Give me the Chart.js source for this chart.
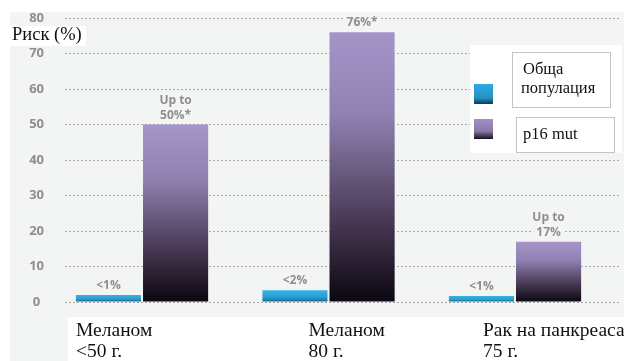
<!DOCTYPE html>
<html>
<head>
<meta charset="utf-8">
<script src="https://cdn.jsdelivr.net/npm/chart.js@4"></script>
<style>
  body { margin: 0; background: #fff; }
  #wrap { width: 624px; height: 361px; position: relative; }
</style>
</head>
<body>
<div id="wrap"><canvas id="riskChart"></canvas></div>
<script>
// Data
const categories = [["Меланом", "<50 г."], ["Меланом", "80 г."], ["Рак на панкреаса", "75 г."]];
const seriesNames = ["Обща популация", "p16 mut"];
const generalRisk = [2, 3.3, 1.7];
const p16Risk = [50, 76, 17];
const generalLabels = [["<1%"], ["<2%"], ["<1%"]];
const p16Labels = [["Up to", "50%*"], ["76%*"], ["Up to", "17%"]];
const yTicks = [0, 10, 20, 30, 40, 50, 60, 70, 80];

const PLOT_BG = "#f3f4f4";
const LABEL_GRAY = "#8e8e8e";
const SERIF = "'Liberation Serif', 'DejaVu Serif', serif";
const SANS = "'Open Sans', Lato, sans-serif";

// per-bar vertical gradients
function purpleFill(top, bottom, ctx) {
  const g = ctx.createLinearGradient(0, top, 0, bottom);
  g.addColorStop(0, "#a494c8");
  g.addColorStop(0.3, "#9282b3");
  g.addColorStop(0.75, "#3e3048");
  g.addColorStop(1, "#0a0610");
  return g;
}
function blueFill(top, bottom, ctx) {
  const g = ctx.createLinearGradient(0, top, 0, bottom);
  g.addColorStop(0, "#38b2e4");
  g.addColorStop(0.55, "#2aa0d6");
  g.addColorStop(1, "#1a668c");
  return g;
}
function barFill(maker) {
  return (c) => {
    const chart = c.chart;
    const y = chart.scales.y;
    if (!chart.chartArea || !y || !c.raw) return "#999";
    return maker(y.getPixelForValue(c.raw.y), y.getPixelForValue(0), chart.ctx);
  };
}

// Background, axis title, category labels
const framePlugin = {
  id: "frame",
  beforeDraw(chart) {
    const { ctx } = chart;
    ctx.save();
    ctx.fillStyle = "#fff";
    ctx.fillRect(0, 0, chart.width, chart.height);
    ctx.fillStyle = PLOT_BG;
    ctx.fillRect(10, 12, chart.width - 10, chart.height - 12);
    ctx.restore();
  },
  afterDraw(chart) {
    const { ctx } = chart;
    const x = chart.scales.x;
    ctx.save();
    // y axis title
    ctx.fillStyle = "#fff";
    ctx.fillRect(10, 26, 76, 20);
    ctx.fillStyle = "#111";
    ctx.font = "18.5px " + SERIF;
    ctx.textBaseline = "alphabetic";
    ctx.fillText("Риск (%)", 12, 40);

    // category labels
    ctx.fillStyle = "#fff";
    ctx.fillRect(68, 317, chart.width - 68, chart.height - 317);
    const offsets = [-66, -20, -32];
    ctx.fillStyle = "#111";
    ctx.font = "19.5px " + SERIF;
    categories.forEach((lines, i) => {
      const px = x.getPixelForValue(i) + offsets[i];
      lines.forEach((t, j) => ctx.fillText(t, px, 336 + j * 21));
    });
    ctx.restore();
  }
};

// Value labels over bars
const valueLabelPlugin = {
  id: "valueLabels",
  afterDatasetsDraw(chart) {
    const { ctx } = chart;
    const sets = [generalLabels, p16Labels];
    ctx.save();
    ctx.font = "bold 12px " + SANS;
    ctx.textAlign = "center";
    ctx.textBaseline = "alphabetic";
    sets.forEach((labels, d) => {
      chart.getDatasetMeta(d).data.forEach((el, i) => {
        const lines = labels[i];
        const base = el.y - 6;
        lines.forEach((t, j) => {
          const y = base - (lines.length - 1 - j) * 15;
          const w = ctx.measureText(t).width;
          ctx.fillStyle = PLOT_BG;
          ctx.fillRect(el.x - w / 2 - 3, y - 10, w + 6, 13);
          ctx.fillStyle = LABEL_GRAY;
          ctx.fillText(t, el.x, y);
        });
      });
    });
    ctx.restore();
  }
};

// Legend: swatches on the left, names in framed boxes
const legendPlugin = {
  id: "boxLegend",
  afterDraw(chart) {
    const { ctx } = chart;
    ctx.save();
    ctx.fillStyle = "#fff";
    ctx.fillRect(470, 45, 152, 108);

    const swatches = [
      { y: 84, fill: (t, b) => { const g = ctx.createLinearGradient(0, t, 0, b); g.addColorStop(0, "#2eaae2"); g.addColorStop(0.7, "#2690c4"); g.addColorStop(1, "#0b3a52"); return g; } },
      { y: 119, fill: (t, b) => { const g = ctx.createLinearGradient(0, t, 0, b); g.addColorStop(0, "#a090c6"); g.addColorStop(0.6, "#8a7aa8"); g.addColorStop(1, "#1a1020"); return g; } }
    ];
    swatches.forEach((s) => {
      ctx.fillStyle = s.fill(s.y, s.y + 20);
      ctx.fillRect(474, s.y, 19, 20);
    });

    ctx.strokeStyle = "#c4c4c4";
    ctx.lineWidth = 1;
    ctx.strokeRect(512.5, 52.5, 98, 55);
    ctx.strokeRect(516.5, 117.5, 98, 35);

    ctx.fillStyle = "#111";
    ctx.font = "16.5px " + SERIF;
    const first = seriesNames[0].split(" ");
    ctx.fillText(first[0], 523, 74);
    ctx.fillText(first[1], 521, 93);
    ctx.fillText(seriesNames[1], 523, 139);
    ctx.restore();
  }
};

const ctx = document.getElementById("riskChart").getContext("2d");
new Chart(ctx, {
  type: "bar",
  data: {
    datasets: [
      {
        label: seriesNames[0],
        data: generalRisk.map((v, i) => ({ x: i, y: v })),
        backgroundColor: barFill(blueFill),
        borderWidth: 0
      },
      {
        label: seriesNames[1],
        data: p16Risk.map((v, i) => ({ x: i, y: v })),
        backgroundColor: barFill(purpleFill),
        borderWidth: 0
      }
    ]
  },
  options: {
    responsive: true,
    maintainAspectRatio: false,
    animation: false,
    categoryPercentage: 0.72,
    barPercentage: 0.97,
    layout: { padding: { top: 18, bottom: 59, left: 10, right: 4 } },
    plugins: {
      legend: { display: false },
      tooltip: { enabled: false }
    },
    scales: {
      x: {
        type: "linear",
        min: -0.413,
        max: 2.563,
        offset: false,
        display: false,
        afterBuildTicks: (s) => { s.ticks = categories.map((c, i) => ({ value: i })); },
        grid: { display: false }
      },
      y: {
        min: 0,
        max: 80,
        afterBuildTicks: (s) => { s.ticks = yTicks.map((v) => ({ value: v })); },
        afterFit: (s) => {
          s.width = 55;
          // tick padding only shifts labels sideways here
          s.paddingTop = 7;
          s.paddingBottom = 7;
        },
        // dotted gridlines
        border: { display: false, dash: [2, 2] },
        grid: {
          color: "#a8a8a8",
          lineWidth: 1,
          drawTicks: false
        },
        ticks: {
          crossAlign: "center",
          padding: 21,
          color: LABEL_GRAY,
          font: { family: SANS, size: 13, weight: "bold" }
        }
      }
    }
  },
  plugins: [framePlugin, valueLabelPlugin, legendPlugin]
});
</script>
</body>
</html>
